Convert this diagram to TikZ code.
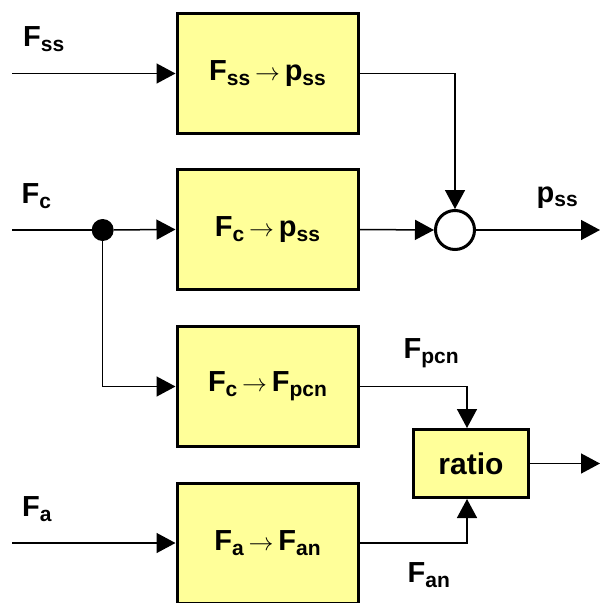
\documentclass[tikz,border=0pt]{standalone}
\usepackage{fontspec}
\setmainfont{Liberation Sans}
\usetikzlibrary{arrows.meta}
\definecolor{boxfill}{RGB}{255,255,153}
\newcommand\lbl[2]{#1\raisebox{-0.17em}{\fontsize{21}{21}\selectfont #2}}
\newcommand\arrw{\,$\rightarrow$\,}
\tikzset{
  blockbox/.style={draw, line width=3pt, fill=boxfill, minimum width=181pt, minimum height=120pt, inner sep=0pt,
    font=\fontsize{29}{32}\selectfont\bfseries},
  ratiobox/.style={draw, line width=3pt, fill=boxfill, minimum width=115pt, minimum height=68pt, inner sep=0pt,
    font=\fontsize{30}{32}\selectfont\bfseries},
  sig/.style={font=\fontsize{29}{32}\selectfont\bfseries, inner sep=0pt, anchor=base west},
  wire/.style={line width=1.5pt},
  arr/.style={line width=1.5pt, -{Triangle[length=19pt,width=20pt]}},
}
\begin{document}
\begin{tikzpicture}[x=1pt,y=-1pt]
\useasboundingbox (0,0) rectangle (600,603);
% blocks
\node[blockbox] (b1) at (267.5,73.5) {\lbl{F}{ss}\arrw\lbl{p}{ss}};
\node[blockbox] (b2) at (267.5,229.5) {\lbl{F}{c}\arrw\lbl{p}{ss}};
\node[blockbox] (b3) at (267.5,386.5) {\lbl{F}{c}\arrw\lbl{F}{pcn}};
\node[blockbox] (b4) at (267.5,543) {\lbl{F}{a}\arrw\lbl{F}{an}};
\node[ratiobox] (ratio) at (471,463.5) {ratio};
\node[circle, draw, line width=3pt, fill=white, minimum size=39pt, inner sep=0pt] (sum) at (455,230) {};
\node[circle, fill=black, minimum size=22pt, inner sep=0pt] (dot) at (102.7,230) {};
% coordinates
\coordinate (in1) at (12,73.5);
\coordinate (in2) at (12,230);
\coordinate (in4) at (12,543);
\coordinate (out1) at (600,230);
\coordinate (out2) at (600,463.5);
\coordinate (rt) at (467,428);
\coordinate (rb) at (467,499);
% labels
\node[sig] (lfss) at (23,46.5) {\lbl{F}{ss}};
\node[sig] (lfc) at (21.5,203.5) {\lbl{F}{c}};
\node[sig] (lpss) at (536.5,202) {\lbl{p}{ss}};
\node[sig] (lfpcn) at (403.5,358.5) {\lbl{F}{pcn}};
\node[sig] (lfa) at (22,516.5) {\lbl{F}{a}};
\node[sig] (lfan) at (407.5,582.5) {\lbl{F}{an}};
% connectors
\draw[arr] (in1) -- (b1.west);
\draw[arr] (b1.east) -| (sum.north);
\draw[wire] (in2) -- (dot);
\draw[arr] (dot) -- (b2.west);
\draw[arr] (b2.east) -- (sum.west);
\draw[arr] (sum.east) -- (out1);
\draw[arr] (dot) |- (b3.west);
\draw[arr] (b3.east) -| (rt);
\draw[arr] (in4) -- (b4.west);
\draw[arr] (b4.east) -| (rb);
\draw[arr] (ratio.east) -- (out2);
\end{tikzpicture}
\end{document}
